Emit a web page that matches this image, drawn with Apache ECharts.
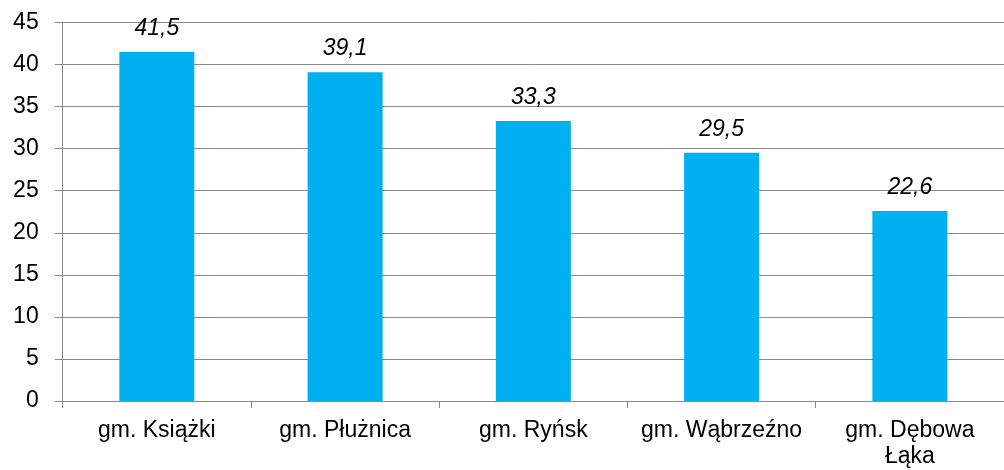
<!DOCTYPE html>
<html>
<head>
<meta charset="utf-8">
<script src="https://cdn.jsdelivr.net/npm/echarts@6/dist/echarts.min.js"></script>
<style>
  html, body { margin: 0; padding: 0; background: #fff; }
  #chart { width: 1004px; height: 470px; }
</style>
</head>
<body>
<div id="chart"></div>
<script>
// Gminy and their values
const categories = ['gm. Książki', 'gm. Płużnica', 'gm. Ryńsk', 'gm. Wąbrzeźno', 'gm. Dębowa\nŁąka'];
const values = [41.5, 39.1, 33.3, 29.5, 22.6];
const yTicks = { min: 0, max: 45, interval: 5 };

const FONT = '"Liberation Sans", Arial, sans-serif';
const GRID_GRAY = '#8a8a8a';

const chart = echarts.init(document.getElementById('chart'), null, { renderer: 'canvas' });

chart.setOption({
  animation: false,
  backgroundColor: '#ffffff',
  grid: { left: 62.7, right: -8.7, top: 22.5, bottom: 65 },
  xAxis: {
    type: 'category',
    data: categories,
    boundaryGap: true,
    axisLine: { show: true, lineStyle: { color: GRID_GRAY, width: 1 } },
    axisTick: { show: true, length: 7, alignWithLabel: false, lineStyle: { color: GRID_GRAY, width: 1 } },
    axisLabel: {
      color: '#000',
      fontFamily: FONT,
      fontSize: 23,
      lineHeight: 26,
      margin: 17,
      interval: 0
    },
    splitLine: { show: false }
  },
  yAxis: {
    type: 'value',
    min: yTicks.min,
    max: yTicks.max,
    interval: yTicks.interval,
    axisLine: { show: true, lineStyle: { color: GRID_GRAY, width: 1 } },
    axisTick: { show: true, length: 8, lineStyle: { color: GRID_GRAY, width: 1 } },
    axisLabel: {
      color: '#000',
      fontFamily: FONT,
      fontSize: 23,
      margin: 24,
      align: 'right'
    },
    splitLine: { show: true, lineStyle: { color: GRID_GRAY, width: 1 } }
  },
  series: [{
    type: 'bar',
    data: values,
    barWidth: 75,
    itemStyle: { color: '#00B0F0' },
    label: {
      show: true,
      position: 'top',
      distance: 12,
      color: '#000',
      fontFamily: FONT,
      fontSize: 23,
      fontStyle: 'italic',
      formatter: p => p.value.toFixed(1).replace('.', ',')
    }
  }]
});
</script>
</body>
</html>
